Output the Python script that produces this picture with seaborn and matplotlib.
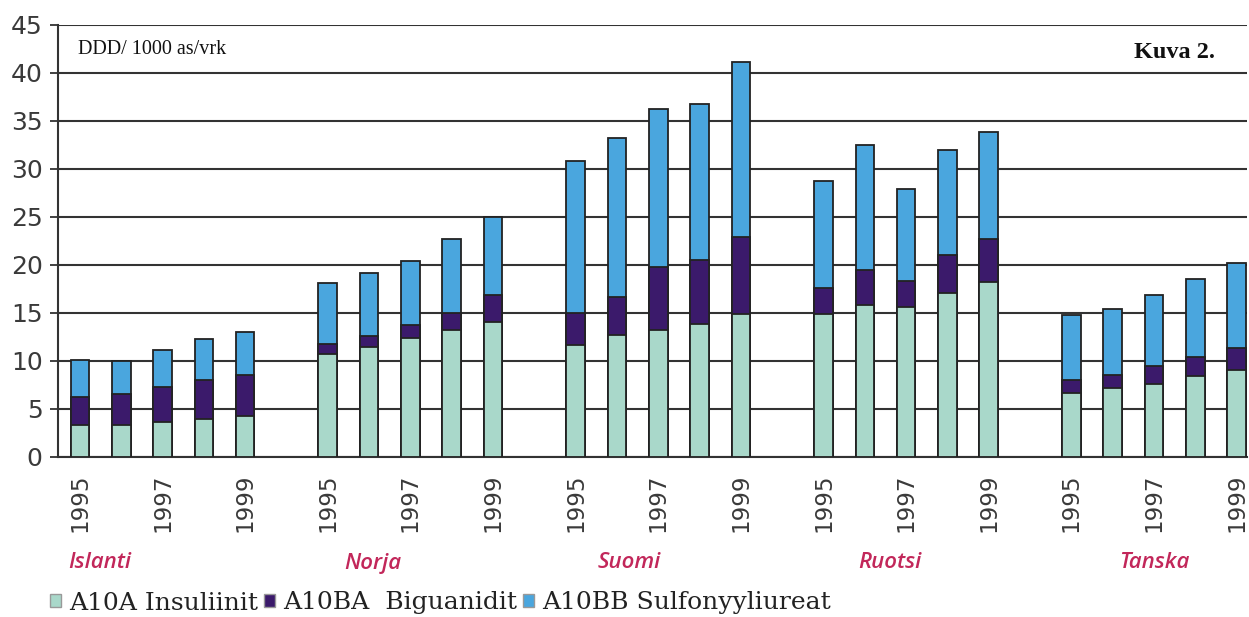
import numpy as np
import pandas as pd
import matplotlib
matplotlib.use("Agg")
import matplotlib.pyplot as plt
from matplotlib.patches import Patch
import seaborn as sns

countries = ["Islanti", "Norja", "Suomi", "Ruotsi", "Tanska"]
years = [1995, 1996, 1997, 1998, 1999]
tick_years = ["1995", "1997", "1999"]

# DDD / 1000 as / vrk
insuliinit = [3.3, 3.3, 3.6, 4.0, 4.3,
              10.7, 11.5, 12.4, 13.2, 14.1,
              11.7, 12.7, 13.2, 13.9, 14.9,
              14.9, 15.8, 15.6, 17.1, 18.2,
              6.7, 7.2, 7.6, 8.4, 9.1]
biguanidit = [3.0, 3.3, 3.7, 4.0, 4.2,
              1.1, 1.1, 1.4, 1.8, 2.8,
              3.3, 4.0, 6.6, 6.6, 8.0,
              2.7, 3.7, 2.7, 3.9, 4.5,
              1.3, 1.3, 1.9, 2.0, 2.3]
sulfonyyliureat = [3.8, 3.4, 3.8, 4.3, 4.5,
                   6.3, 6.6, 6.6, 7.7, 8.1,
                   15.8, 16.5, 16.5, 16.3, 18.2,
                   11.1, 13.0, 9.6, 11.0, 11.2,
                   6.8, 6.9, 7.4, 8.1, 8.8]

legend_labels = ["A10A Insuliinit", "A10BA  Biguanidit", "A10BB Sulfonyyliureat"]
colors = ["#a9d8ca", "#3b1a6b", "#4aa6de"]

# build table
rows = []
for gi, c in enumerate(countries):
    for yi, y in enumerate(years):
        k = gi * 5 + yi
        rows.append({"country": c, "year": y, "pos": gi * 6 + yi,
                     "ins": insuliinit[k], "big": biguanidit[k], "sulf": sulfonyyliureat[k]})
df = pd.DataFrame(rows)
df["lev1"] = df["ins"]
df["lev2"] = df["ins"] + df["big"]
df["lev3"] = df["ins"] + df["big"] + df["sulf"]

sns.set_theme(style="white")
fig = plt.figure(figsize=(12.49, 6.17), dpi=100)
ax = fig.add_axes([58 / 1249, 1 - 457 / 617, (1247 - 58) / 1249, (457 - 25) / 617])

for col, colr in zip(["lev3", "lev2", "lev1"], colors[::-1]):
    sns.barplot(data=df, x="pos", y=col, native_scale=True, color=colr,
                width=0.45, edgecolor="#222222", linewidth=1.3, saturation=1,
                errorbar=None, ax=ax, zorder=3)

ax.set_xlim(-0.53, 28.25)
ax.set_ylim(0, 45)
ax.set_yticks(np.arange(0, 46, 5))
ax.yaxis.grid(True, color="#333333", linewidth=1.5, zorder=0)
ax.set_axisbelow(True)
for s in ["right", "top"]:
    ax.spines[s].set_visible(False)
ax.spines["left"].set_color("#333333")
ax.spines["left"].set_linewidth(1.5)
ax.spines["bottom"].set_color("#333333")
ax.spines["bottom"].set_linewidth(1.5)
ax.tick_params(axis="y", which="both", left=True, length=6, width=1.3, color="#333333",
               labelsize=18, labelcolor="#3a3a3a", pad=5)

tick_pos = []
tick_lab = []
for gi in range(len(countries)):
    for yi, t in zip([0, 2, 4], tick_years):
        tick_pos.append(gi * 6 + yi)
        tick_lab.append(t)
ax.set_xticks(tick_pos)
ax.set_xticklabels(tick_lab, rotation=90, fontsize=16.5, color="#3a3a3a")
ax.tick_params(axis="x", length=0, pad=12)
ax.set_xlabel("")
ax.set_ylabel("")

# country labels
label_x = [0.48, 7.08, 13.3, 19.6, 26.0]
label_y = -(563 - 457) / 432
for c, lx in zip(countries, label_x):
    ax.text(lx, label_y, c, transform=ax.get_xaxis_transform(),
            ha="center", va="center", fontsize=16, fontstyle="italic", fontweight="semibold",
            family=["Open Sans", "DejaVu Sans"], color="#c2275a")

fig.text(78 / 1249, 1 - 50 / 617, "DDD/ 1000 as/vrk", family="Liberation Serif",
         fontsize=14.5, ha="left", va="center", color="#111111")
fig.text(1215 / 1249, 1 - 52 / 617, "Kuva 2.", family="Liberation Serif",
         fontsize=17.5, fontweight="bold", ha="right", va="center", color="#111111")

handles = [Patch(facecolor=c, edgecolor="#999999", linewidth=1.0) for c in colors]
leg = fig.legend(handles, legend_labels, loc="center left",
                 bbox_to_anchor=(50 / 1249, 1 - 603 / 617), ncol=3, frameon=False,
                 handlelength=0.45, handleheight=0.45, handletextpad=0.3,
                 columnspacing=0.25, borderaxespad=0, borderpad=0,
                 prop={"family": "DejaVu Serif", "size": 18})
for t in leg.get_texts():
    t.set_color("#222222")

fig.savefig("out.png", dpi=100)
